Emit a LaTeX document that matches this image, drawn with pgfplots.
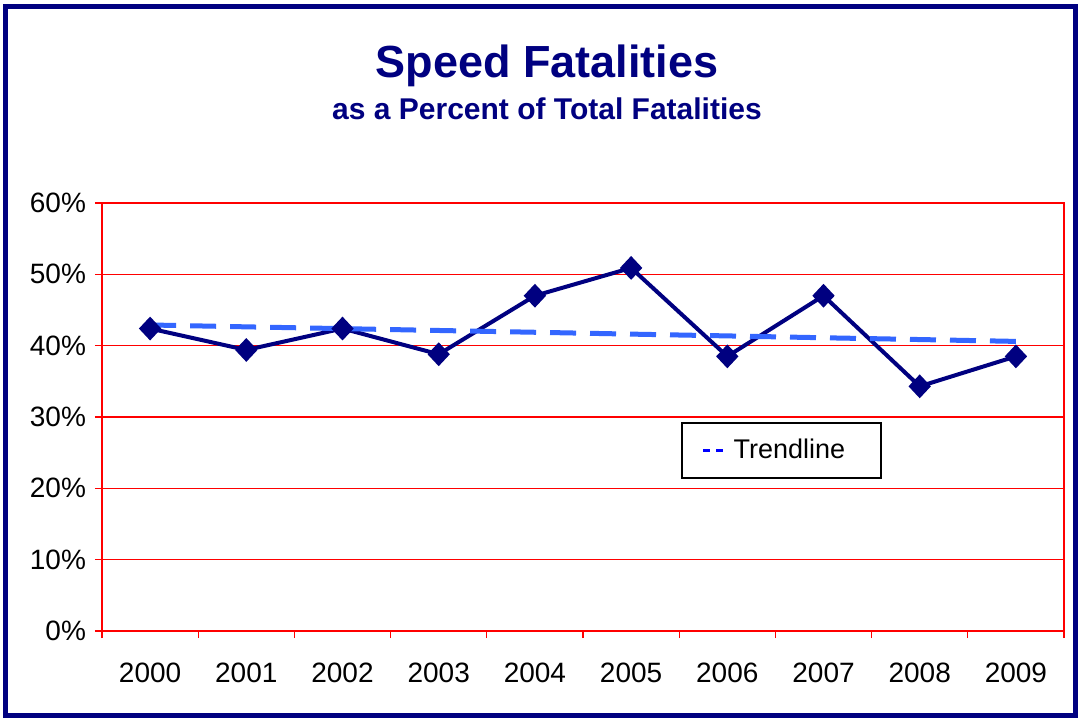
\documentclass[border=0pt]{standalone}
\usepackage{fontspec}
\setmainfont{Liberation Sans}
\usepackage{pgfplots}
\pgfplotsset{compat=1.18}
\definecolor{navyc}{RGB}{0,0,128}
\definecolor{trendc}{RGB}{51,102,255}
\begin{document}
\begin{tikzpicture}
\useasboundingbox (0pt,0pt) rectangle (539.5pt,359.5pt);
\fill[white] (0pt,0pt) rectangle (539.5pt,359.5pt);
\draw[navyc, line width=2.4pt] (2.6pt,1.8pt) rectangle (537.8pt,356.4pt);
\node[navyc, font=\fontsize{22.5}{26}\selectfont\bfseries, anchor=base, inner sep=0pt] at (273.5pt,320.5pt) {Speed Fatalities};
\node[navyc, font=\fontsize{15}{18}\selectfont\bfseries, anchor=base, inner sep=0pt] at (273.5pt,299.5pt) {as a Percent of Total Fatalities};
\begin{axis}[
  at={(51pt,44pt)}, anchor=south west,
  scale only axis, width=481pt, height=214pt,
  xmin=-0.5, xmax=9.5, ymin=0, ymax=60,
  xtick={0,...,9},
  xticklabels={2000,2001,2002,2003,2004,2005,2006,2007,2008,2009},
  minor xtick={-0.5,0.5,...,9.5},
  ytick={0,10,...,60},
  yticklabel={\pgfmathprintnumber{\tick}\%},
  /pgf/number format/assume math mode=true,
  xtick pos=bottom, ytick pos=left,
  tick align=outside,
  major tick length=3.5pt, minor tick length=3.5pt,
  x tick style={draw=none},
  minor x tick style={draw=red, line width=0.6pt},
  y tick style={draw=red, line width=0.6pt},
  ymajorgrids, major grid style={red, line width=0.6pt},
  axis line style={red, line width=1pt},
  tick label style={font=\fontsize{14}{16}\selectfont, black},
  xticklabel style={yshift=-9pt},
  yticklabel style={xshift=-1pt},
  legend style={at={(0.602,0.488)}, anchor=north west, draw=black, line width=1pt,
    font=\fontsize{13.5}{16}\selectfont, inner xsep=10pt, inner ysep=6pt},
  legend cell align=left,
  clip=false,
]
\addplot[navyc, line width=2pt, mark=diamond*, mark size=4.5pt, mark options={xscale=1.25, solid, fill=navyc}, forget plot]
  coordinates {(0,42.4) (1,39.4) (2,42.4) (3,38.8) (4,47.0) (5,50.9) (6,38.5) (7,47.0) (8,34.3) (9,38.5)};
\addplot[trendc, line width=2.5pt, dash pattern=on 13pt off 7pt,
  legend image code/.code={\draw[blue, line width=1.2pt, dash pattern=on 3.5pt off 3pt] (0pt,0pt) -- (12.5pt,0pt);}]
  coordinates {(0,42.9) (1,42.64) (2,42.39) (3,42.13) (4,41.88) (5,41.62) (6,41.37) (7,41.11) (8,40.86) (9,40.6)};
\addlegendentry{Trendline\rule{6pt}{0pt}}
\end{axis}
\end{tikzpicture}
\end{document}
